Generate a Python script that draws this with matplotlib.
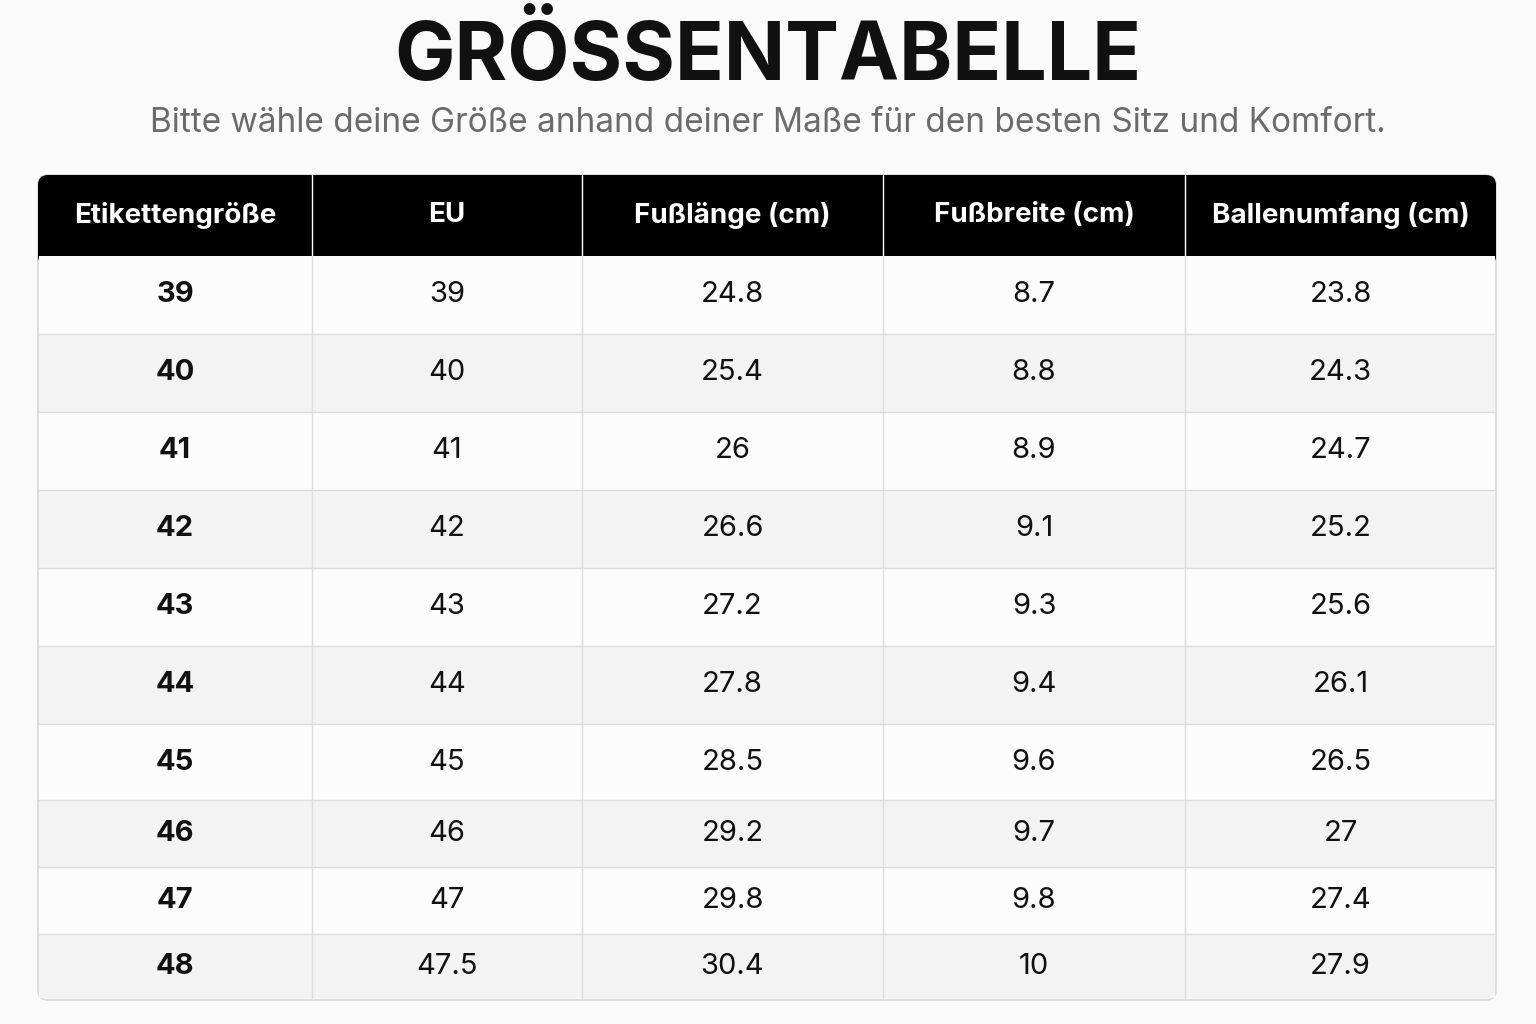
import matplotlib
matplotlib.use("Agg")
import matplotlib.pyplot as plt
from matplotlib.patches import Rectangle, FancyBboxPatch

title = "GRÖSSENTABELLE"
subtitle = "Bitte wähle deine Größe anhand deiner Maße für den besten Sitz und Komfort."
headers = ["Etikettengröße", "EU", "Fußlänge (cm)", "Fußbreite (cm)", "Ballenumfang (cm)"]
label_size = ["39", "40", "41", "42", "43", "44", "45", "46", "47", "48"]
eu = ["39", "40", "41", "42", "43", "44", "45", "46", "47", "47.5"]
foot_length = ["24.8", "25.4", "26", "26.6", "27.2", "27.8", "28.5", "29.2", "29.8", "30.4"]
foot_width = ["8.7", "8.8", "8.9", "9.1", "9.3", "9.4", "9.6", "9.7", "9.8", "10"]
ball_girth = ["23.8", "24.3", "24.7", "25.2", "25.6", "26.1", "26.5", "27", "27.4", "27.9"]

cols = [label_size, eu, foot_length, foot_width, ball_girth]
xb = [38, 312, 582, 883, 1185, 1496]
yb = [175, 256, 334, 412, 490, 568, 646, 724, 800, 867, 934, 1000]

plt.rcParams['font.family'] = ['Inter', 'DejaVu Sans']
fig = plt.figure(figsize=(15.36, 10.24), dpi=100, facecolor="#fafafa")
ax = fig.add_axes([0, 0, 1, 1])
ax.set_xlim(0, 1536); ax.set_ylim(1024, 0); ax.axis("off")

ax.text(768, 58, title, ha="center", va="center", fontsize=58, fontweight="bold", color="#111111")
ax.text(768, 123, subtitle, ha="center", va="center", fontsize=24, color="#6b6b6b")

# table background with rounded border
ax.add_patch(FancyBboxPatch((xb[0], yb[0]), xb[-1]-xb[0], yb[-1]-yb[0],
             boxstyle="round,pad=0,rounding_size=10", fc="#fcfcfc", ec="#d8d8d8", lw=1.2, zorder=1))
ax.add_patch(FancyBboxPatch((xb[0], yb[0]), xb[-1]-xb[0], yb[1]-yb[0]+10,
             boxstyle="round,pad=0,rounding_size=10", fc="#000000", ec="none", zorder=2))
ax.add_patch(Rectangle((xb[0], yb[1]-10), xb[-1]-xb[0], 10, fc="white", ec="none", zorder=2))
ax.add_patch(Rectangle((xb[0]+0.6, yb[1]), xb[-1]-xb[0]-1.2, 1, fc="#fcfcfc", ec="none", zorder=2))
ax.add_patch(Rectangle((xb[0], yb[1]-12), xb[-1]-xb[0], 12, fc="#000000", ec="none", zorder=2))

for i in range(len(label_size)):
    y0, y1 = yb[i+1], yb[i+2]
    fc = "#f3f3f3" if i % 2 == 1 else "#fcfcfc"
    ax.add_patch(Rectangle((xb[0]+1, y0), xb[-1]-xb[0]-2, y1-y0 - (2 if i == len(label_size)-1 else 0),
                           fc=fc, ec="none", zorder=2))
    if i < len(label_size)-1:
        ax.plot([xb[0], xb[-1]], [y1, y1], color="#dddddd", lw=1, zorder=3)

for j in range(1, 5):
    ax.plot([xb[j], xb[j]], [yb[0], yb[1]], color="white", lw=1, zorder=3)
    ax.plot([xb[j], xb[j]], [yb[1], yb[-1]], color="#dddddd", lw=1, zorder=3)

for j, h in enumerate(headers):
    ax.text((xb[j]+xb[j+1])/2, (yb[0]+yb[1])/2, h, ha="center", va="center",
            fontsize=20, fontweight="bold", color="white", zorder=4)
for j, col in enumerate(cols):
    for i, v in enumerate(col):
        ax.text((xb[j]+xb[j+1])/2, (yb[i+1]+yb[i+2])/2, v, ha="center", va="center",
                fontsize=21, fontweight="bold" if j == 0 else "normal", color="#111111", zorder=4)

fig.savefig("out.png", dpi=100, facecolor=fig.get_facecolor())
